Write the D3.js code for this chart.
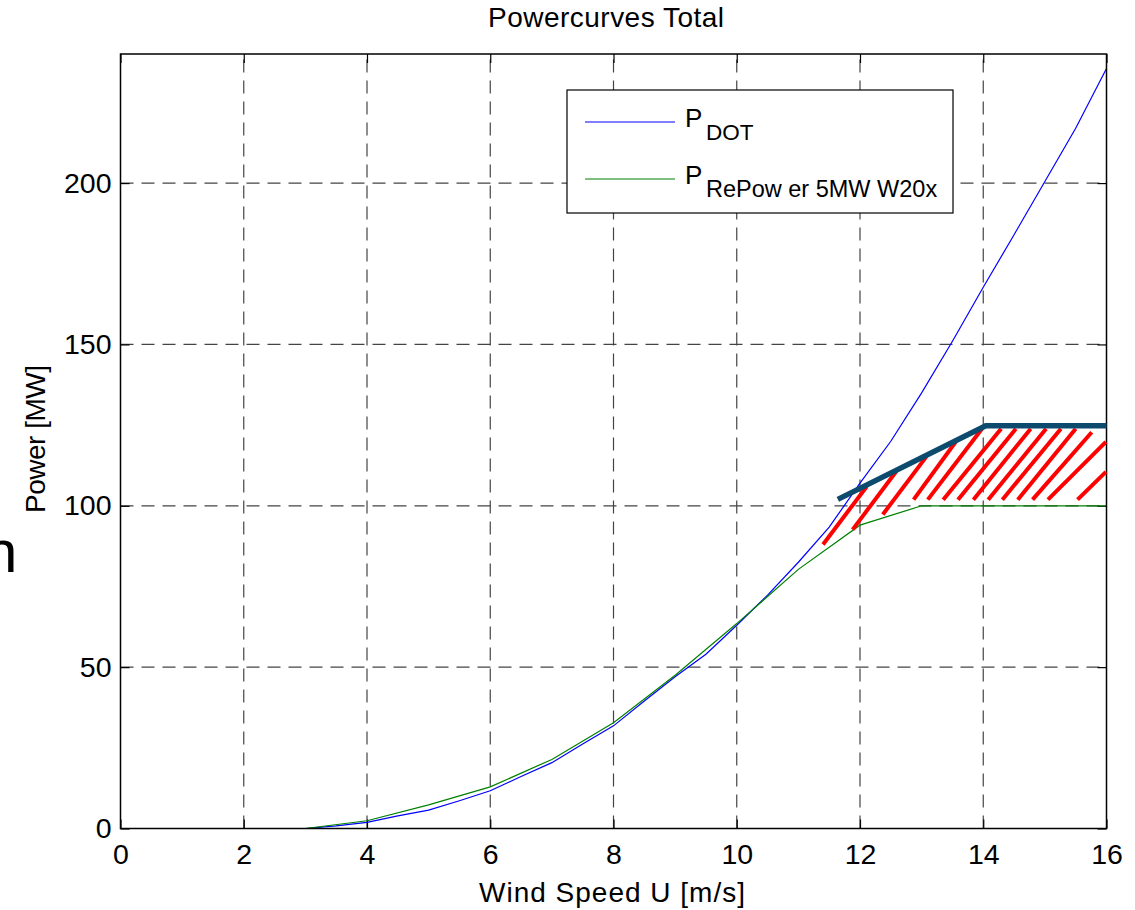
<!DOCTYPE html>
<html>
<head>
<meta charset="utf-8">
<script src="https://cdn.jsdelivr.net/npm/d3@7"></script>
<style>
  body { margin: 0; background: #fff; }
  svg text { font-family: "Liberation Sans", Arial, sans-serif; fill: #000; }
</style>
</head>
<body>
<div id="chart"></div>
<script>
// P_DOT, every 0.5 m/s
const dotSpeed = [1, 1.5, 2, 2.5, 3, 3.5, 4, 4.5, 5, 5.5, 6, 6.5, 7, 7.5, 8, 8.5,
  9, 9.5, 10, 10.5, 11, 11.5, 12, 12.5, 13, 13.5, 14, 14.5, 15, 15.5, 16];
const dotPower = [0, 0, 0, 0, 0, 0.8, 1.9, 3.9, 5.7, 8.6, 11.7, 16.1, 20.4, 26.2, 31.8, 39.5,
  47, 54, 63, 72.3, 82.5, 93.4, 107, 120, 135, 151, 167.7, 184, 200.5, 217, 235.5];

// P_RePower 5MW W20x
const repowerSpeed = [1, 2, 3, 4, 5, 6, 7, 8, 9, 10, 11, 12, 13, 14, 15, 16];
const repowerPower = [0, 0, 0, 2.4, 7.3, 12.9, 21.4, 32.8, 47.5, 63.5, 80.3, 94, 100, 100, 100, 100];

const xTicks = [0, 2, 4, 6, 8, 10, 12, 14, 16];
const yTicks = [0, 50, 100, 150, 200];

// hand drawn marks on top of the plot (wind speed, power)
const edgeSpeed = [11.64, 14.04, 16];
const edgePower = [102, 124.8, 124.8];
const hatchStart = [[11.40, 88.0], [11.88, 92.6], [12.37, 97.3], [12.87, 101.9], [13.10, 101.9],
  [13.35, 101.9], [13.59, 101.9], [13.84, 101.9], [14.08, 101.9], [14.31, 101.9],
  [14.56, 101.9], [14.80, 101.9], [15.05, 101.9], [15.53, 101.9]];
const hatchEnd = [[12.11, 106.0], [12.59, 110.7], [13.08, 115.3], [13.56, 120.0], [13.98, 123.9],
  [14.29, 123.9], [14.53, 123.9], [14.77, 123.9], [15.02, 123.9], [15.26, 123.9],
  [15.50, 123.9], [15.76, 122.8], [15.99, 119.8], [15.99, 110.5]];

const width = 1135;
const height = 910;
const margin = { top: 54, right: 28.5, bottom: 81.5, left: 120.5 };

const svg = d3.select('#chart')
  .append('svg')
  .attr('width', width)
  .attr('height', height);

const x = d3.scaleLinear()
  .domain([0, 16])
  .range([margin.left, width - margin.right]);

const y = d3.scaleLinear()
  .domain([0, 240])
  .range([height - margin.bottom, margin.top]);

// dashed grid
svg.append('g')
  .selectAll('line')
  .data(xTicks.slice(1, -1))
  .join('line')
    .attr('x1', d => x(d)).attr('x2', d => x(d))
    .attr('y1', y(0)).attr('y2', y(240))
    .attr('stroke', '#444')
    .attr('stroke-width', 1.2)
    .attr('stroke-dasharray', '13,8');

svg.append('g')
  .selectAll('line')
  .data(yTicks.slice(1))
  .join('line')
    .attr('x1', x(0)).attr('x2', x(16))
    .attr('y1', d => y(d)).attr('y2', d => y(d))
    .attr('stroke', '#444')
    .attr('stroke-width', 1.2)
    .attr('stroke-dasharray', '13,8');

// axes, ticks pointing inward
function xAxis(g) {
  g.attr('transform', `translate(0,${y(0)})`)
    .call(d3.axisBottom(x).tickValues(xTicks).tickSize(-9).tickPadding(15))
    .attr('font-size', 28.5);
  g.select('.domain').remove();
  g.selectAll('.tick line').attr('stroke', '#000').attr('stroke-width', 1.2);
}
function yAxis(g) {
  g.attr('transform', `translate(${x(0)},0)`)
    .call(d3.axisLeft(y).tickValues(yTicks).tickSize(-9).tickPadding(9))
    .attr('font-size', 28.5);
  g.select('.domain').remove();
  g.selectAll('.tick line').attr('stroke', '#000').attr('stroke-width', 1.2);
}
function xAxisTop(g) {
  g.attr('transform', `translate(0,${y(240)})`)
    .call(d3.axisTop(x).tickValues(xTicks).tickSize(-9).tickFormat(''));
  g.select('.domain').remove();
  g.selectAll('.tick line').attr('stroke', '#000').attr('stroke-width', 1.2);
}
function yAxisRight(g) {
  g.attr('transform', `translate(${x(16)},0)`)
    .call(d3.axisRight(y).tickValues(yTicks).tickSize(-9).tickFormat(''));
  g.select('.domain').remove();
  g.selectAll('.tick line').attr('stroke', '#000').attr('stroke-width', 1.2);
}

svg.append('g').call(xAxis);
svg.append('g').call(yAxis);
svg.append('g').call(xAxisTop);
svg.append('g').call(yAxisRight);

// the curves
const line = d3.line()
  .x(d => x(d[0]))
  .y(d => y(d[1]));

svg.append('path')
  .datum(d3.zip(dotSpeed, dotPower))
  .attr('d', line)
  .attr('fill', 'none')
  .attr('stroke', '#0000ff')
  .attr('stroke-width', 1.2);

svg.append('path')
  .datum(d3.zip(repowerSpeed, repowerPower))
  .attr('d', line)
  .attr('fill', 'none')
  .attr('stroke', '#008000')
  .attr('stroke-width', 1.2);

// box
svg.append('rect')
  .attr('x', x(0)).attr('y', y(240))
  .attr('width', x(16) - x(0)).attr('height', y(0) - y(240))
  .attr('fill', 'none')
  .attr('stroke', '#000')
  .attr('stroke-width', 1.5);

// red hatch + thick edge
svg.append('g')
  .selectAll('line')
  .data(d3.zip(hatchStart, hatchEnd))
  .join('line')
    .attr('x1', d => x(d[0][0])).attr('y1', d => y(d[0][1]))
    .attr('x2', d => x(d[1][0])).attr('y2', d => y(d[1][1]))
    .attr('stroke', '#ff0000')
    .attr('stroke-width', 4);

svg.append('path')
  .datum(d3.zip(edgeSpeed, edgePower))
  .attr('d', line)
  .attr('fill', 'none')
  .attr('stroke', '#0c4a6e')
  .attr('stroke-width', 5.5);

// legend
const leg = svg.append('g');
leg.append('rect')
  .attr('x', 567).attr('y', 90)
  .attr('width', 386).attr('height', 123)
  .attr('fill', '#fff')
  .attr('stroke', '#000')
  .attr('stroke-width', 1.2);
leg.append('line')
  .attr('x1', 585).attr('x2', 675).attr('y1', 122).attr('y2', 122)
  .attr('stroke', '#0000ff').attr('stroke-width', 1.2);
leg.append('line')
  .attr('x1', 585).attr('x2', 675).attr('y1', 179).attr('y2', 179)
  .attr('stroke', '#008000').attr('stroke-width', 1.2);
leg.append('text').attr('x', 685).attr('y', 127).attr('font-size', 26).text('P');
leg.append('text').attr('x', 706).attr('y', 140).attr('font-size', 22.5).text('DOT');
leg.append('text').attr('x', 685).attr('y', 183.5).attr('font-size', 26).text('P');
leg.append('text').attr('x', 706).attr('y', 196.5).attr('font-size', 23.5).text('RePow er 5MW W20x');

// titles
svg.append('text')
  .attr('x', 606).attr('y', 27)
  .attr('text-anchor', 'middle')
  .attr('font-size', 28)
  .attr('textLength', 236)
  .text('Powercurves Total');

svg.append('text')
  .attr('x', 612).attr('y', 902)
  .attr('text-anchor', 'middle')
  .attr('font-size', 28)
  .attr('textLength', 266)
  .text('Wind Speed U [m/s]');

svg.append('text')
  .attr('transform', 'translate(45,439) rotate(-90)')
  .attr('text-anchor', 'middle')
  .attr('font-size', 28)
  .attr('textLength', 148)
  .text('Power [MW]');

// stray letter cut off at the left edge
svg.append('text')
  .attr('x', -16).attr('y', 572)
  .attr('font-size', 60)
  .text('n');
</script>
</body>
</html>
